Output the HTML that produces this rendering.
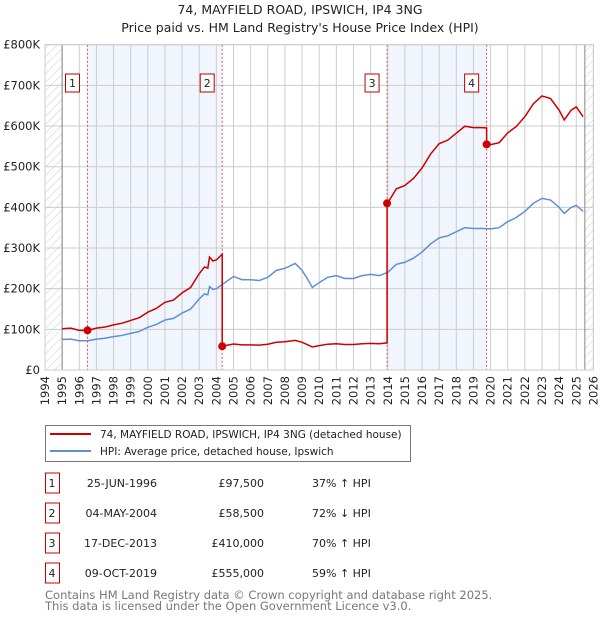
<!DOCTYPE html>
<html><head><meta charset="utf-8"><style>
body{margin:0;background:#fff;font-family:"DejaVu Sans","Liberation Sans",sans-serif;}
svg text{font-family:"DejaVu Sans","Liberation Sans",sans-serif;}
</style></head><body>
<svg id="chart" width="600" height="620" xmlns="http://www.w3.org/2000/svg">
<defs><pattern id="hatch" width="6" height="6" patternUnits="userSpaceOnUse" patternTransform="rotate(45)"><line x1="0" y1="0" x2="0" y2="6" stroke="#ccc" stroke-width="1"/></pattern></defs>
<text x="300" y="14" text-anchor="middle" font-size="12.5" fill="#222">74, MAYFIELD ROAD, IPSWICH, IP4 3NG</text>
<text x="300" y="32" text-anchor="middle" font-size="12.5" fill="#222">Price paid vs. HM Land Registry's House Price Index (HPI)</text>
<g id="plot"></g>
<g>
<rect x="45.5" y="425.5" width="365" height="36" fill="#fff" stroke="#777"/>
<line x1="50" y1="434" x2="91" y2="434" stroke="#cc0000" stroke-width="2"/>
<text x="100" y="438" font-size="10.5" fill="#222">74, MAYFIELD ROAD, IPSWICH, IP4 3NG (detached house)</text>
<line x1="50" y1="451" x2="91" y2="451" stroke="#5f8fd0" stroke-width="2"/>
<text x="100" y="455" font-size="10.5" fill="#222">HPI: Average price, detached house, Ipswich</text>
</g>
<g id="table" font-size="11" fill="#222"></g>
<text x="45" y="599" font-size="11.5" fill="#777">Contains HM Land Registry data © Crown copyright and database right 2025.</text>
<text x="45" y="610" font-size="11.5" fill="#777">This data is licensed under the Open Government Licence v3.0.</text>
</svg>
<script>
const hpiDates=[1995.0,1995.5,1996.0,1996.5,1997.0,1997.5,1998.0,1998.5,1999.0,1999.5,2000.0,2000.5,2001.0,2001.5,2002.0,2002.5,2003.0,2003.3,2003.5,2003.6,2003.8,2004.0,2004.5,2005.0,2005.5,2006.0,2006.5,2007.0,2007.5,2008.0,2008.6,2009.0,2009.3,2009.6,2010.0,2010.5,2011.0,2011.5,2012.0,2012.5,2013.0,2013.5,2014.0,2014.5,2015.0,2015.5,2016.0,2016.5,2017.0,2017.5,2018.0,2018.5,2019.0,2019.5,2020.0,2020.5,2021.0,2021.5,2022.0,2022.5,2023.0,2023.5,2024.0,2024.3,2024.7,2025.0,2025.4];
const hpiValues=[75,76,72,72,76,78,82,85,90,95,105,112,123,127,140,150,175,187,185,205,198,200,215,230,222,222,220,228,245,250,262,245,225,203,215,228,232,225,225,232,235,232,240,260,265,275,290,310,325,330,340,350,348,348,347,350,365,375,390,410,422,418,400,385,400,405,390];
const saleLabels=["1","2","3","4"];
const saleDates=[1996.48,2004.34,2013.96,2019.77];
const saleDateText=["25-JUN-1996","04-MAY-2004","17-DEC-2013","09-OCT-2019"];
const salePrices=[97.5,58.5,410,555];
const salePriceText=["£97,500","£58,500","£410,000","£555,000"];
const saleDiffText=["37% ↑ HPI","72% ↓ HPI","70% ↑ HPI","59% ↑ HPI"];
const yTicks=[0,100,200,300,400,500,600,700,800];
const yTickLabels=["£0","£100K","£200K","£300K","£400K","£500K","£600K","£700K","£800K"];
const xYears=[1994,1995,1996,1997,1998,1999,2000,2001,2002,2003,2004,2005,2006,2007,2008,2009,2010,2011,2012,2013,2014,2015,2016,2017,2018,2019,2020,2021,2022,2023,2024,2025,2026];

const NS="http://www.w3.org/2000/svg";
const X0=45,X1=593.4,Y0=370,Y1=44.7;
const xs=y=>X0+(y-1994)/(2026-1994)*(X1-X0);
const ys=v=>Y0-v/800*(Y0-Y1);
const plot=document.getElementById('plot');
function mk(tag,attrs,parent){const e=document.createElementNS(NS,tag);for(const k in attrs)e.setAttribute(k,attrs[k]);(parent||plot).appendChild(e);return e;}
function hpiAt(t){for(let i=0;i<hpiDates.length-1;i++){if(t<=hpiDates[i+1]){const f=(t-hpiDates[i])/(hpiDates[i+1]-hpiDates[i]);return hpiValues[i]+f*(hpiValues[i+1]-hpiValues[i]);}}return hpiValues[hpiValues.length-1];}

for(let i=0;i<saleDates.length;i+=2){
  const r=mk('rect',{x:xs(saleDates[i]),y:Y1,width:xs(saleDates[i+1])-xs(saleDates[i]),height:Y0-Y1,fill:'#eef3fc',opacity:0.8});
  
  
}
let h=mk('rect',{x:X0,y:Y1,width:xs(1995)-X0,height:Y0-Y1,fill:'url(#hatch)'});


h=mk('rect',{x:xs(2025.5),y:Y1,width:X1-xs(2025.5),height:Y0-Y1,fill:'url(#hatch)'});


xYears.forEach(y=>{const l=mk('line',{x1:xs(y),x2:xs(y),y1:Y1,y2:Y0,stroke:'#ccc','stroke-width':1});
  
  
  const t=mk('text',{x:0,y:0,transform:`translate(${xs(y)+4},${Y0+6}) rotate(-90)`,'text-anchor':'end','font-size':11.5,fill:'#222'});
  t.textContent=y;
  
  
});
yTicks.forEach((v,i)=>{const l=mk('line',{x1:X0,x2:X1,y1:ys(v),y2:ys(v),stroke:'#ccc','stroke-width':1});
  
  
  const t=mk('text',{x:40,y:ys(v)+4,'text-anchor':'end','font-size':11.5,fill:'#222'});
  t.textContent=yTickLabels[i];
  
  
});
let ax=mk('line',{x1:xs(1995),x2:xs(1995),y1:Y1,y2:Y0,stroke:'#888'});


ax=mk('line',{x1:xs(2025.5),x2:xs(2025.5),y1:Y1,y2:Y0,stroke:'#888'});


saleDates.forEach((d,i)=>{
  const l=mk('line',{x1:xs(d),x2:xs(d),y1:Y1,y2:Y0,stroke:'#e05050','stroke-width':1,'stroke-dasharray':'2,2'});
  
  
  const r=mk('rect',{x:xs(d)-22,y:74,width:14,height:18,fill:'#fff',stroke:'#b00'});
  
  
  const t=mk('text',{x:xs(d)-15,y:87,'text-anchor':'middle','font-size':11,fill:'#222'});
  t.textContent=saleLabels[i];
  
  
});
const hp=mk('polyline',{points:hpiDates.map((d,i)=>xs(d)+','+ys(hpiValues[i])).join(' '),fill:'none',stroke:'#5f8fd0','stroke-width':1.5});


let pts=[];
const bounds=[1995].concat(saleDates.slice(1)).concat([2025.4]);
for(let s=0;s<saleDates.length;s++){
  const ratio=salePrices[s]/hpiAt(saleDates[s]);
  const a=bounds[s],b=bounds[s+1];
  if(s>0)pts.push([a,salePrices[s]]);
  hpiDates.forEach((d,i)=>{if(d>=a&&d<b)pts.push([d,hpiValues[i]*ratio]);});
  pts.push([b,hpiAt(b)*ratio]);
}
const pl=mk('polyline',{points:pts.map(p=>xs(p[0])+','+ys(p[1])).join(' '),fill:'none',stroke:'#cc0000','stroke-width':1.5});


saleDates.forEach((d,i)=>{const c=mk('circle',{cx:xs(d),cy:ys(salePrices[i]),r:4,fill:'#cc0000'});
  
  
});
mk('rect',{x:X0,y:Y1,width:X1-X0,height:Y0-Y1,fill:'none',stroke:'#ccc'});
const tb=document.getElementById('table');
saleLabels.forEach((lab,i)=>{
  const cy=483+i*30;
  const r=mk('rect',{x:45.5,y:cy-10,width:14,height:20,fill:'#fff',stroke:'#cc0000'},tb);
  
  
  const vals=[[lab,52,'middle'],[saleDateText[i],157,'end'],[salePriceText[i],264,'end'],[saleDiffText[i],312,'start']];
  const names=['table-row-number','table-sale-date','table-sale-price','table-hpi-diff'];
  vals.forEach((v,j)=>{const t=mk('text',{x:v[1],y:cy+4,'text-anchor':v[2]},tb);t.textContent=v[0];
    
    
  });
});
</script>
</body></html>
